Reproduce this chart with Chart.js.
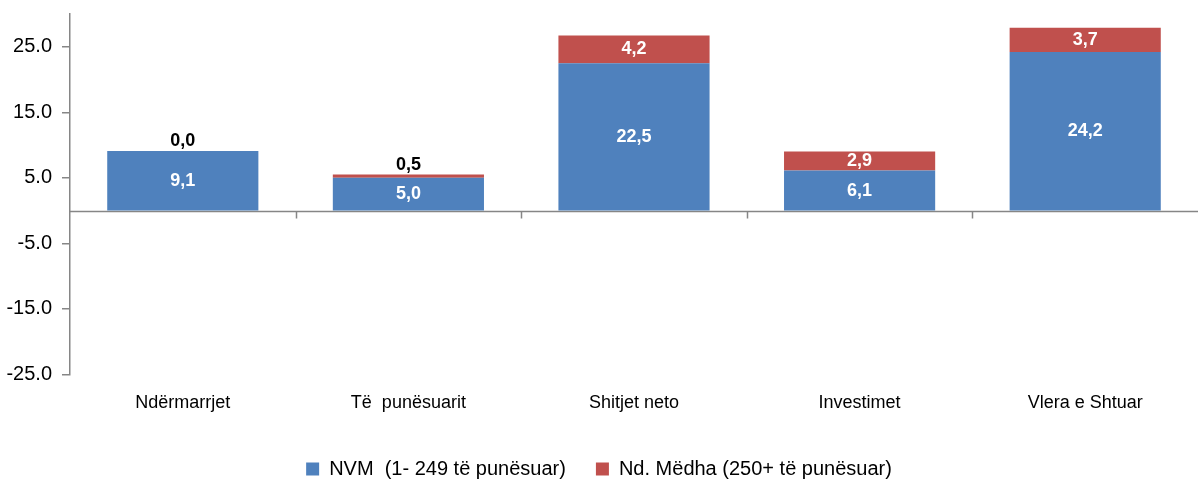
<!DOCTYPE html>
<html>
<head>
<meta charset="utf-8">
<script src="https://cdn.jsdelivr.net/npm/chart.js@4"></script>
<style>
  html, body { margin: 0; padding: 0; background: #ffffff; }
  #wrap { width: 1198px; height: 483px; }
</style>
</head>
<body>
<div id="wrap"><canvas id="smeChart" width="1198" height="483"></canvas></div>
<script>
// Categories and series values
const categories = ['Ndërmarrjet', 'Të  punësuarit', 'Shitjet neto', 'Investimet', 'Vlera e Shtuar'];
const smeValues = [9.1, 5.0, 22.5, 6.1, 24.2];
const largeValues = [0.0, 0.5, 4.2, 2.9, 3.7];
const seriesNames = ['NVM  (1- 249 të punësuar)', 'Nd. Mëdha (250+ të punësuar)'];
const yTickValues = [-25, -15, -5, 5, 15, 25];

const colors = {
  blue: '#4f81bd',
  red: '#c0504d',
  axis: '#868686',
  text: '#000000'
};

const fontFamily = 'Arial, "Liberation Sans", sans-serif';
const fmt = v => v.toFixed(1).replace('.', ',');

// Zero line across the plot plus small category tick marks on it
const zeroLinePlugin = {
  id: 'zeroLine',
  beforeDatasetsDraw(chart) {
    const { ctx, chartArea, scales } = chart;
    const y0 = Math.round(scales.y.getPixelForValue(0)) + 0.5;
    ctx.save();
    ctx.strokeStyle = colors.axis;
    ctx.lineWidth = 1.5;
    ctx.beginPath();
    ctx.moveTo(chartArea.left, y0);
    ctx.lineTo(chartArea.right, y0);
    const step = (chartArea.right - chartArea.left) / categories.length;
    for (let i = 1; i < categories.length; i++) {
      const x = Math.round(chartArea.left + step * i) + 0.5;
      ctx.moveTo(x, y0);
      ctx.lineTo(x, y0 + 7);
    }
    ctx.stroke();
    ctx.restore();
  }
};

// Value labels on the bars
const valueLabelPlugin = {
  id: 'valueLabels',
  afterDatasetsDraw(chart) {
    const { ctx } = chart;
    ctx.save();
    ctx.font = 'bold 18px "Liberation Sans Narrow", "Arial Narrow", Arial, sans-serif';
    ctx.textAlign = 'center';
    ctx.textBaseline = 'middle';
    chart.data.datasets.forEach((ds, di) => {
      const meta = chart.getDatasetMeta(di);
      meta.data.forEach((bar, i) => {
        const v = ds.data[i];
        const h = Math.abs(bar.base - bar.y);
        if (di === 1 && h < 14) {
          // thin segments get a black label above the stack
          ctx.fillStyle = colors.text;
          ctx.fillText(fmt(v), bar.x, Math.min(bar.y, bar.base) - 10);
        } else {
          ctx.fillStyle = '#ffffff';
          ctx.fillText(fmt(v), bar.x, (bar.y + bar.base) / 2);
        }
      });
    });
    ctx.restore();
  }
};

const ctx = document.getElementById('smeChart').getContext('2d');
new Chart(ctx, {
  type: 'bar',
  data: {
    labels: categories,
    datasets: [
      {
        label: seriesNames[0],
        data: smeValues,
        backgroundColor: colors.blue,
        borderWidth: 0,
        barPercentage: 0.67,
        categoryPercentage: 1.0
      },
      {
        label: seriesNames[1],
        data: largeValues,
        backgroundColor: colors.red,
        borderWidth: 0,
        barPercentage: 0.67,
        categoryPercentage: 1.0
      }
    ]
  },
  options: {
    responsive: false,
    animation: false,
    layout: { padding: { top: 14, right: 0, left: 0, bottom: -6 } },
    plugins: {
      legend: {
        position: 'bottom',
        labels: {
          color: colors.text,
          boxWidth: 13,
          boxHeight: 13,
          padding: 30,
          font: { family: fontFamily, size: 20 }
        }
      },
      tooltip: { enabled: false }
    },
    scales: {
      x: {
        stacked: true,
        grid: { display: false },
        border: { display: false },
        afterFit(scale) {
          scale.height += 5;
        },
        ticks: {
          color: colors.text,
          padding: 10,
          font: { family: fontFamily, size: 18 }
        }
      },
      y: {
        stacked: true,
        min: -25,
        max: 30,
        afterBuildTicks(scale) {
          scale.ticks = yTickValues.map(v => ({ value: v }));
        },
        afterFit(scale) {
          scale.width = 70;
          scale.paddingTop = 0;
          scale.paddingBottom = 0;
        },
        grid: {
          drawOnChartArea: false,
          drawTicks: true,
          tickLength: 8,
          color: colors.axis,
          lineWidth: 1.5
        },
        border: { display: true, color: colors.axis, width: 1.5 },
        ticks: {
          color: colors.text,
          padding: 10,
          font: { family: fontFamily, size: 20 },
          callback: v => v.toFixed(1)
        }
      }
    }
  },
  plugins: [zeroLinePlugin, valueLabelPlugin]
});
</script>
</body>
</html>
